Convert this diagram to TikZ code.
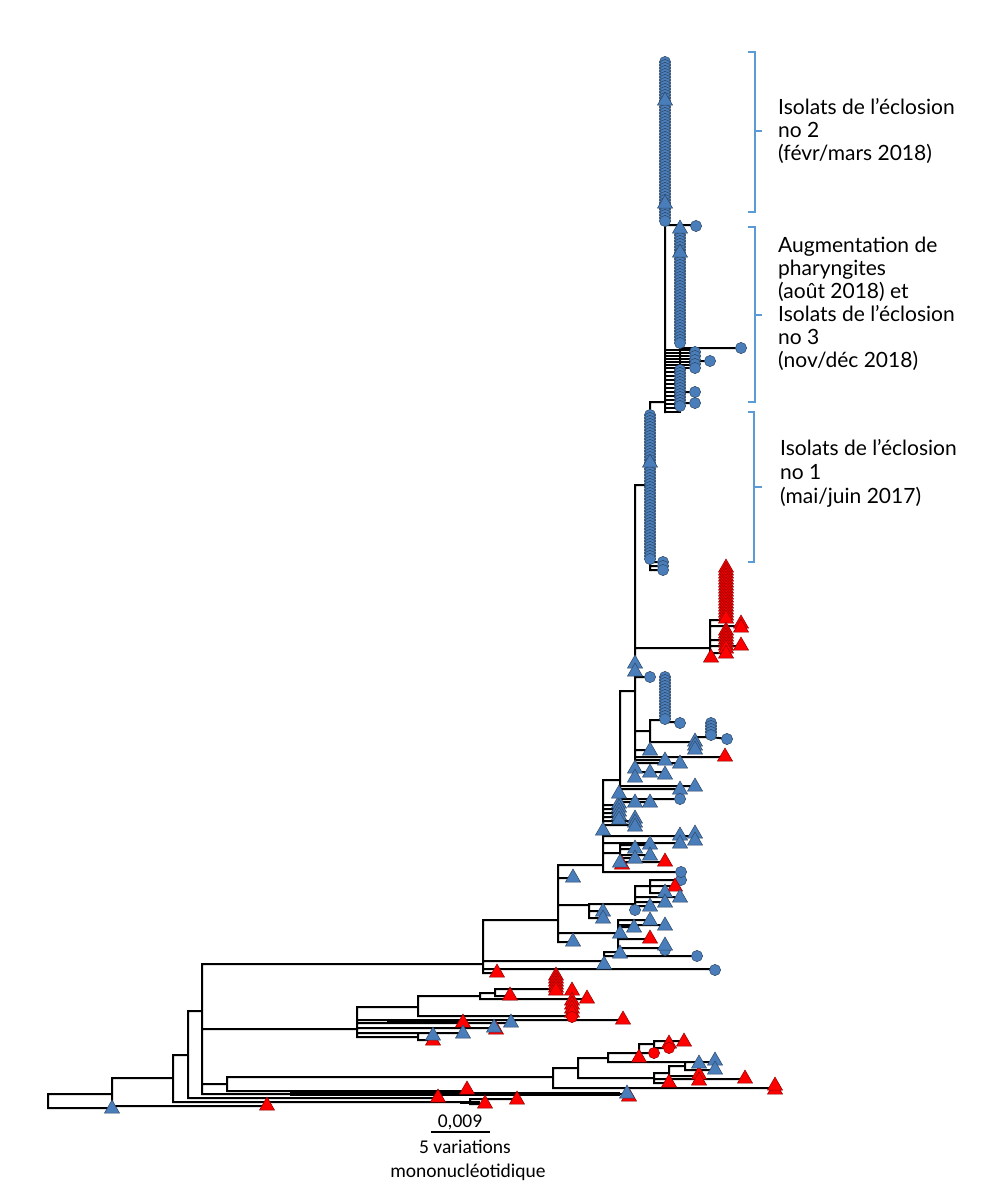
\documentclass[tikz,border=0pt]{standalone}
\usepackage{fontspec}
\setmainfont{Lato}
\newfontfamily\calfont{Carlito}
\definecolor{tipblue}{RGB}{74,126,187}
\definecolor{tipblueD}{RGB}{45,70,100}
\definecolor{tipred}{RGB}{255,0,0}
\definecolor{tipredD}{RGB}{140,0,0}
\definecolor{brkblue}{RGB}{91,155,213}
\tikzset{
  br/.style={line width=2pt, black, line cap=rect},
  bfill/.style={fill=tipblue, draw=tipblueD, line width=0.5pt},
  rfill/.style={fill=tipred, draw=tipredD, line width=0.5pt},
  brk/.style={draw=brkblue, line width=2.4pt},
  lbl/.style={font=\fontsize{21}{24}\selectfont, anchor=base west, inner sep=0pt},
  sbl/.style={font=\calfont\fontsize{19.5}{23}\selectfont, anchor=base, inner sep=0pt}
}
\newcommand\tipBT[2]{\path[bfill] (#1,#2) ++(-7.5,5) -- ++(15,0) -- ++(-7.5,-13) -- cycle;}
\newcommand\tipRT[2]{\path[rfill] (#1,#2) ++(-7.5,5) -- ++(15,0) -- ++(-7.5,-13) -- cycle;}
\newcommand\tipBC[2]{\path[bfill] (#1,#2) circle (5.6pt);}
\newcommand\tipRC[2]{\path[rfill] (#1,#2) circle (5.6pt);}
\begin{document}
\begin{tikzpicture}[x=1pt,y=-1pt]
\useasboundingbox (0,0) rectangle (980,1202);
\fill[white] (0,0) rectangle (980,1202);

% ---------------- tree branches ----------------
\draw[br]
 % root and backbone
 (48,1094)--(48,1108) (48,1094)--(112,1094) (48,1108)--(112,1108)
 (112,1078)--(112,1106) (112,1078)--(173,1078) (112,1106)--(267,1106)
 (173,1055)--(173,1102) (173,1055)--(188,1055) (173,1102)--(470,1102)
 (470,1099)--(470,1104) (470,1099)--(517,1099) (470,1104)--(485,1104)
 (188,1011)--(188,1098) (188,1011)--(202,1011) (188,1098)--(438,1098)
 (202,964)--(202,1094) (202,964)--(483,964) (202,1029)--(357,1029)
 (202,1084)--(227,1084) (202,1094)--(627,1094)
 (227,1077)--(227,1091) (227,1077)--(553,1077) (227,1091)--(467,1091)
 % lower right clade
 (553,1068)--(553,1088) (553,1068)--(578,1068) (553,1088)--(775,1088)
 (578,1058)--(578,1078) (578,1058)--(608,1058) (578,1078)--(654,1078)
 (608,1053)--(608,1062) (608,1053)--(654,1053) (608,1062)--(699,1062)
 (639,1044)--(639,1056) (639,1044)--(654,1044)
 (654,1041)--(654,1048) (654,1041)--(684,1041) (654,1048)--(669,1048)
 (654,1073)--(654,1083) (654,1073)--(669,1073) (654,1079)--(745,1079) (654,1083)--(669,1083)
 (669,1066)--(669,1076) (669,1066)--(685,1066) (669,1076)--(699,1076)
 (685,1062)--(685,1070) (685,1062)--(715,1062) (685,1070)--(715,1070)
 % clade at 357
 (357,1007)--(357,1037) (357,1007)--(418,1007)
 (418,996)--(418,1016) (418,996)--(480,996)
 (480,993)--(480,999) (480,993)--(495,993) (480,999)--(587,999)
 (495,989)--(495,996) (495,989)--(556,989) (495,996)--(510,996)
 (418,1016)--(572,1016) (572,990)--(572,1016)
 (357,1020)--(623,1020) (357,1023)--(511,1023)
 (357,1028)--(494,1028) (357,1033)--(463,1033)
 (357,1037)--(418,1037) (418,1033)--(418,1040) (418,1033)--(433,1033) (418,1040)--(433,1040)
 % clade at 483
 (483,920)--(483,973) (483,920)--(558,920) (483,961)--(604,961)
 (483,969)--(715,969) (483,973)--(497,973)
 (604,952)--(604,966) (604,952)--(620,952) (604,956)--(697,956)
 % clade at 558
 (558,865)--(558,942) (558,865)--(603,865) (558,878)--(573,878)
 (558,905)--(589,905) (558,933)--(618,933) (558,942)--(573,942)
 (589,904)--(589,918) (589,904)--(635,904) (589,911)--(603,911) (589,918)--(603,918)
 (635,886)--(635,910) (635,886)--(650,886)
 (650,880)--(650,893) (650,880)--(681,880) (650,886)--(675,886) (650,893)--(665,893)
 (635,897)--(680,897) (635,902)--(665,902) (635,906)--(650,906)
 (618,920)--(618,948) (618,920)--(650,920) (618,925)--(665,925) (618,927)--(634,927)
 (618,939)--(650,939) (618,948)--(665,948)
 % node U
 (603,780)--(603,872) (603,780)--(620,780)
 (603,805)--(619,805) (603,809)--(619,809) (603,813)--(619,813) (603,817)--(619,817)
 (603,821)--(635,821) (603,825)--(635,825)
 (603,836)--(695,836) (603,843)--(680,843)
 (603,853)--(620,853) (620,845)--(620,862) (620,845)--(650,845) (620,849)--(635,849)
 (620,855)--(650,855) (620,858)--(635,858) (620,862)--(665,862)
 (603,872)--(681,872)
 % node V
 (620,691)--(620,802) (620,691)--(635,691)
 (620,786)--(695,786) (620,789)--(680,789) (620,799)--(680,799) (620,802)--(650,802)
 % node W
 (635,485)--(635,777) (635,485)--(650,485) (635,648)--(710,648)
 (635,677)--(650,677) (635,731)--(650,731) (635,750)--(650,750)
 (635,757)--(725,757) (635,760)--(665,760) (635,763)--(680,763) (635,772)--(665,772)
 (650,720)--(650,742) (650,720)--(665,720) (665,677)--(665,722) (665,722)--(680,722)
 (650,742)--(695,742) (695,737)--(695,750) (695,737)--(711,737) (711,723)--(711,737) (711,737)--(727,739)
 % red cluster
 (710,620)--(710,657) (710,620)--(726,620) (726,567)--(726,620)
 (710,626)--(741,626) (710,640)--(726,640) (710,646)--(741,646) (710,653)--(726,653)
 % node X (outbreak 1)
 (650,402)--(650,570) (650,402)--(665,402) (650,562)--(663,562) (650,566)--(663,566) (650,570)--(663,570)
 % node Z (outbreaks 2 and 3)
 (665,62)--(665,412) (665,225)--(696,225) (680,228)--(680,408)
 (680,348)--(741,348) (695,352)--(695,368) (695,361)--(710,361)
 (680,392)--(695,392) (680,403)--(695,403)
 ;
\foreach \y in {350,353,...,368} {\draw[br] (665,\y)--(695,\y);}
\foreach \y in {372,376,...,412} {\draw[br] (665,\y)--(680,\y);}
\draw[line width=4pt] (290,1094)--(620,1094);
\draw[line width=3.5pt] (387,1021)--(463,1021);
\draw[line width=3pt] (460,1102)--(480,1102);

% ---------------- tips ----------------
% bottom-left
\tipBT{112}{1108}
\tipRT{267}{1105}
\tipRT{438}{1097}
\tipRT{467}{1089}
\tipRT{485}{1103}
\tipRT{517}{1099}
\tipRT{629}{1096}\tipBT{627}{1093}
% lower-right clade
\tipRT{684}{1041}\tipRT{669}{1043}\tipRC{669}{1048}\tipRC{654}{1053}\tipRT{639}{1057}
\tipRT{699}{1074}\tipRT{699}{1080}
\tipBT{699}{1063}\tipBT{715}{1060}\tipBT{715}{1069}
\tipRT{669}{1082}\tipRT{745}{1078}\tipRT{775}{1089}\tipRT{775}{1085}
% clade at 357
\foreach \y in {975,978,...,990} {\tipRT{556}{\y}}
\tipRT{510}{995}
\tipRT{587}{998}
\tipRT{572}{990}\tipRT{572}{1000}\tipRT{572}{1004}\tipRT{572}{1008}\tipRT{572}{1012}\tipRC{572}{1017}
\tipRT{623}{1019}
\tipRT{463}{1022}
\tipBT{511}{1022}
\tipRT{496}{1029}\tipBT{494}{1027}
\tipBT{463}{1033}
\tipRT{433}{1040}\tipBT{433}{1035}
% clade at 483
\tipRT{497}{972}
\tipBC{715}{970}
\tipBT{604}{964}\tipBT{620}{953}\tipBC{697}{956}
% clade at 558
\tipBT{573}{877}\tipBT{573}{941}
\tipBT{603}{911}\tipBT{603}{918}
\tipBC{681}{880}\tipRT{675}{886}\tipBT{665}{892}\tipBT{680}{897}\tipBT{665}{902}\tipBT{650}{906}\tipBC{635}{910}
\tipBT{650}{920}\tipBT{665}{925}\tipBT{634}{927}\tipBT{620}{933}\tipRT{650}{938}\tipBC{665}{950}\tipBT{665}{945}
% node U
\foreach \y in {803,807,...,819} {\tipBT{619}{\y}}
\foreach \y in {818,822,826} {\tipBT{635}{\y}}
\tipBT{603}{830}
\tipBT{680}{835}\tipBT{695}{833}\tipBT{695}{840}\tipBT{680}{843}
\tipBT{650}{844}\tipBT{635}{848}\tipBT{650}{855}\tipBT{635}{858}\tipRT{665}{861}\tipRT{622}{864}\tipBT{620}{862}
\tipBC{681}{872}
% node V / W
\tipBT{665}{760}\tipBT{680}{763}\tipBT{635}{768}\tipBT{635}{777}\tipBT{650}{772}\tipBT{665}{774}
\tipBT{695}{786}\tipBT{680}{789}\tipBC{680}{799}\tipBT{619}{793}\tipBT{635}{802}\tipBT{650}{802}
\tipRT{725}{756}
\tipBT{635}{663}\tipBT{635}{671}
\tipBC{650}{677}
\foreach \y in {677,680,...,720} {\tipBC{665}{\y}}
\tipBC{680}{723}
\foreach \y in {723,726,...,737} {\tipBC{711}{\y}}
\tipBC{727}{739}
\tipBT{695}{741}\tipBT{695}{745}\tipBT{695}{749}
\tipBT{650}{750}
% red cluster
\foreach \y in {567,570,...,618} {\tipRT{726}{\y}}
\foreach \y in {630,633,...,648} {\tipRT{726}{\y}}
\tipRT{741}{623}\tipRT{741}{627}\tipRT{741}{645}\tipRT{726}{653}\tipRT{711}{657}
% outbreak 1
\foreach \y in {415,418,...,560} {\tipBC{650}{\y}}
\tipBT{650}{462}
\tipBC{663}{562}\tipBC{663}{566}\tipBC{663}{570}
% outbreak 2
\foreach \y in {62,65,...,222} {\tipBC{665}{\y}}
\tipBT{665}{100}\tipBT{665}{203}
\tipBC{696}{226}
% outbreak 3
\foreach \y in {232,235,...,345} {\tipBC{680}{\y}}
\tipBT{680}{228}\tipBT{680}{252}
\tipBC{741}{348}
\foreach \y in {352,356,...,368} {\tipBC{695}{\y}}
\tipBC{710}{361}
\foreach \y in {370,373,...,408} {\tipBC{680}{\y}}
\tipBC{695}{392}\tipBC{695}{403}

% ---------------- brackets ----------------
\draw[brk] (748,52)--(755,52)--(755,212)--(748,212) (755,131)--(762,131);
\draw[brk] (748,227)--(755,227)--(755,402)--(748,402) (755,315)--(762,315);
\draw[brk] (748,412)--(754,412)--(754,562)--(748,562) (754,487)--(762,487);

% ---------------- labels ----------------
\node[lbl] (l1a) at (778,114) {Isolats de l’éclosion};
\node[lbl] (l1b) at (778,137) {no 2};
\node[lbl] (l1c) at (778,160) {(févr/mars 2018)};
\node[lbl] (l2a) at (778,252) {Augmentation de};
\node[lbl] (l2b) at (778,275) {pharyngites};
\node[lbl] (l2c) at (778,298) {(août 2018) et};
\node[lbl] (l2d) at (778,321) {Isolats de l’éclosion};
\node[lbl] (l2e) at (778,344) {no 3};
\node[lbl] (l2f) at (778,367) {(nov/déc 2018)};
\node[lbl] (l3a) at (780,455) {Isolats de l’éclosion};
\node[lbl] (l3b) at (780,479) {no 1};
\node[lbl] (l3c) at (780,503) {(mai/juin 2017)};

% ---------------- scale bar ----------------
\draw[line width=1.2pt] (431,1132)--(490,1132);
\node[sbl] (sv) at (460,1127) {0,009};
\node[sbl] (s5) at (465,1153) {5 variations};
\node[sbl] (sm) at (468,1177) {mononucléotidique};
\end{tikzpicture}
\end{document}
